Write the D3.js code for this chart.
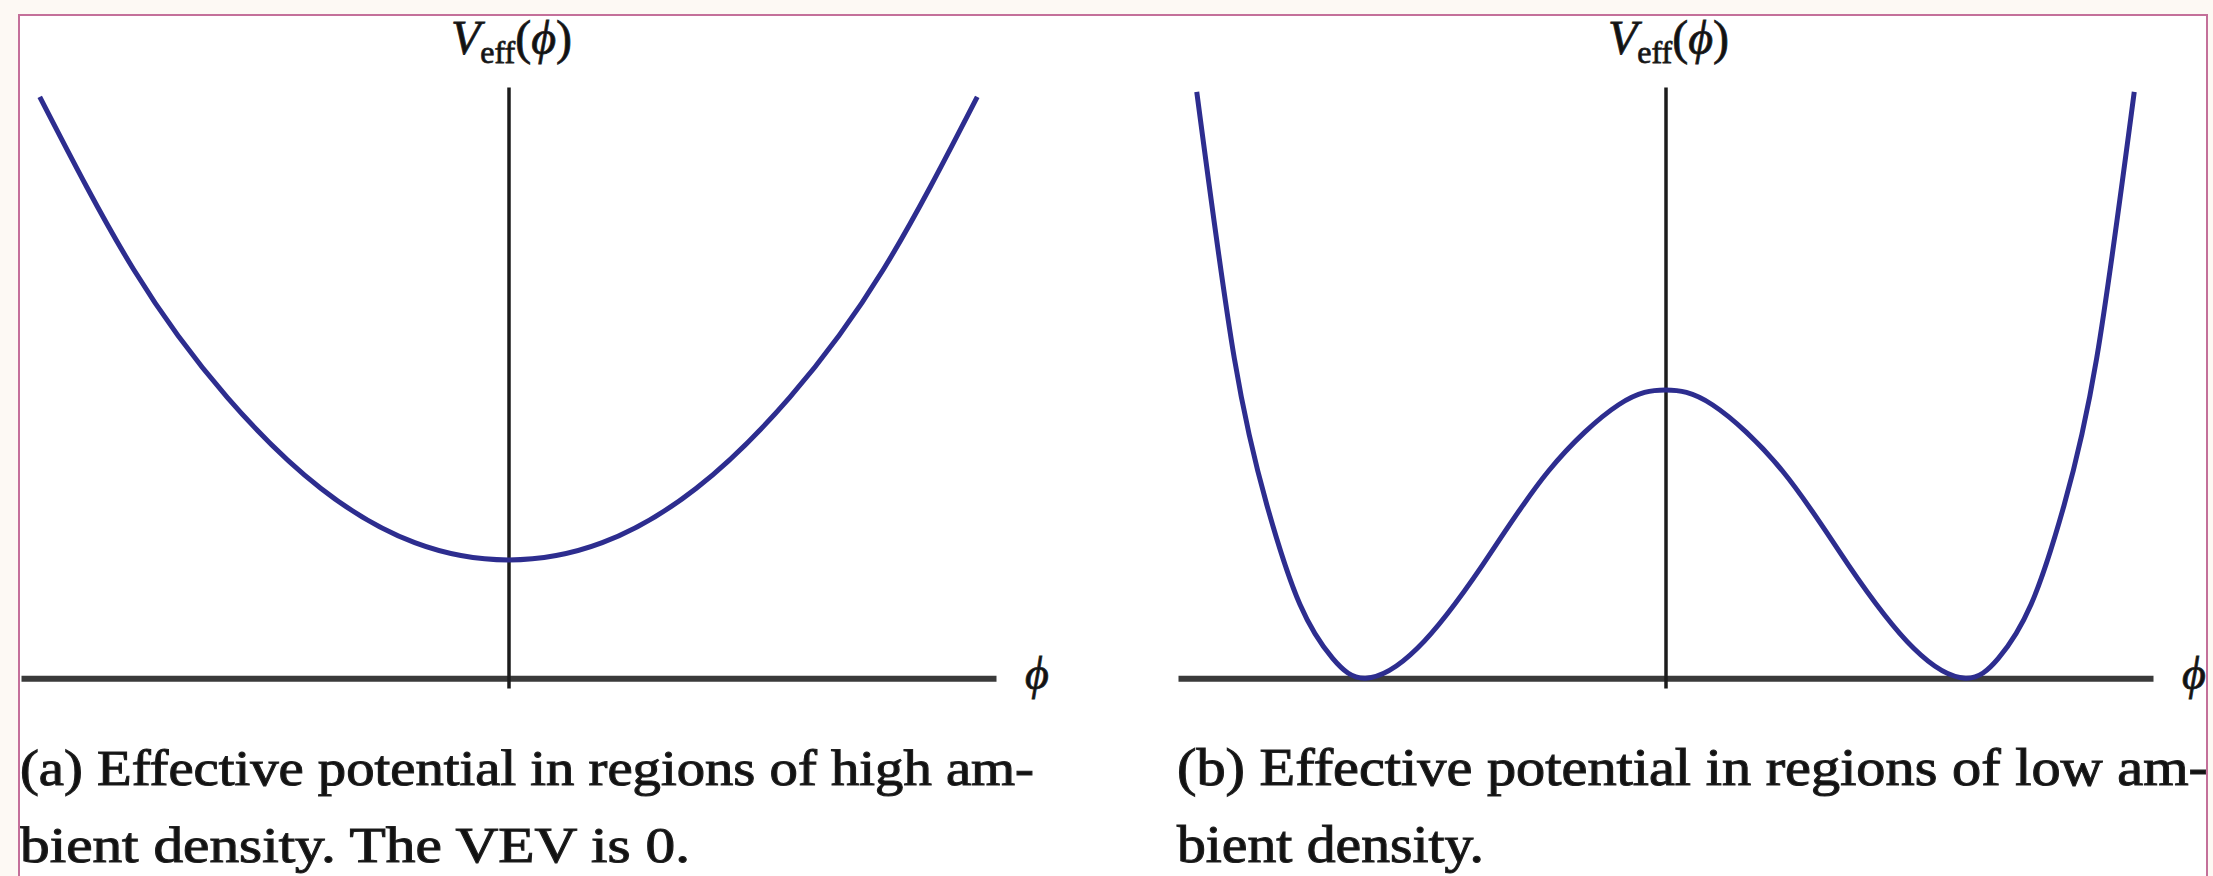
<!DOCTYPE html>
<meta charset="utf-8">
<style>
body { margin: 0; background: #fdf9f4; }
svg { display: block; }
.curve { fill: none; stroke: #2d2d8f; stroke-width: 5; stroke-linejoin: round; }
.axis--x .domain { stroke: #3a3a3a; stroke-width: 6; }
.axis--y .domain { stroke: #1c1c1c; stroke-width: 3.5; }
.lbl { font-family: "Liberation Serif", "DejaVu Serif", serif; fill: #111; stroke: #222; stroke-width: 0.8; }
.cap { stroke-width: 1.1; }
</style>
<svg width="2213" height="876"></svg>
<script src="https://d3js.org/d3.v7.min.js"></script>
<script>

// (a) high density: single well, VEV 0
var phiA = [-1, -0.8, -0.6, -0.4, -0.2, 0, 0.2, 0.4, 0.6, 0.8, 1];
var potA = [1.18, 0.83, 0.57, 0.385, 0.275, 0.24, 0.275, 0.385, 0.57, 0.83, 1.18];

// (b) low density: double well
var phiB = [-1, -0.92, -0.85, -0.78, -0.71, -0.64, -0.53, -0.39, -0.25, -0.1, 0,
            0.1, 0.25, 0.39, 0.53, 0.64, 0.71, 0.78, 0.85, 0.92, 1];
var potB = [1.19, 0.65, 0.35, 0.15, 0.04, 0, 0.06, 0.23, 0.42, 0.555, 0.585,
            0.555, 0.42, 0.23, 0.06, 0, 0.04, 0.15, 0.35, 0.65, 1.19];

var captionA = ["(a) Effective potential in regions of high am-", "bient density. The VEV is 0."];
var captionB = ["(b) Effective potential in regions of low am-", "bient density."];

var svg = d3.select("svg");

// page frame
svg.append("rect")
    .attr("x", 19).attr("y", 15)
    .attr("width", 2188).attr("height", 900)
    .attr("fill", "#fff")
    .attr("stroke", "#c4709a")
    .attr("stroke-width", 2);

svg.append("clipPath").attr("id", "frame")
  .append("rect")
    .attr("x", 20).attr("y", 16)
    .attr("width", 2186).attr("height", 900);

var root = svg.append("g").attr("clip-path", "url(#frame)");

function panel(offset, phi, pot, caption, capSize, capWidths) {
    var x = d3.scaleLinear().domain([-1.04, 1.04]).range([offset + 21, offset + 996]),
        y = d3.scaleLinear().domain([-0.02, 1.2]).range([688, 87]);

    var g = root.append("g");

    g.append("g")
      .attr("class", "axis axis--x")
      .attr("transform", "translate(0," + y(0) + ")")
      .call(d3.axisBottom(x).tickValues([]).tickSizeOuter(0));

    g.append("g")
      .attr("class", "axis axis--y")
      .attr("transform", "translate(" + x(0) + ",0)")
      .call(d3.axisLeft(y).tickValues([]).tickSizeOuter(0));

    var line = d3.line()
        .x(function(d) { return x(d[0]); })
        .y(function(d) { return y(d[1]); })
        .curve(d3.curveNatural);

    g.append("path")
      .datum(d3.zip(phi, pot))
      .attr("class", "curve")
      .attr("d", line);

    // V_eff(phi) label on top of the vertical axis
    var t = g.append("text")
      .attr("class", "lbl")
      .attr("x", x(0) + 3)
      .attr("y", 54)
      .attr("text-anchor", "middle")
      .style("font-size", "48px");
    t.append("tspan").style("font-style", "italic").text("V");
    t.append("tspan").attr("dy", 9).style("font-size", "32px").text("eff");
    t.append("tspan").attr("dy", -9).text("(");
    t.append("tspan").style("font-style", "italic").text("\u03d5");
    t.append("tspan").text(")");

    // phi label at the end of the horizontal axis
    g.append("text")
      .attr("class", "lbl")
      .attr("x", x.range()[1] + 41)
      .attr("y", 689)
      .attr("text-anchor", "middle")
      .style("font-size", "46px")
      .style("font-style", "italic")
      .text("\u03d5");

    g.selectAll("text.cap")
      .data(caption)
      .enter()
      .append("text")
      .attr("class", "lbl cap")
      .attr("x", offset + 20)
      .attr("y", function(d, i) { return 785 + i * 77; })
      .attr("textLength", function(d, i) { return capWidths[i]; })
      .attr("lengthAdjust", "spacingAndGlyphs")
      .style("font-size", capSize + "px")
      .text(function(d) { return d; });
}

panel(0, phiA, potA, captionA, 50, [1014, 670]);
panel(1157, phiB, potB, captionB, 52, [1031, 307]);

</script>
